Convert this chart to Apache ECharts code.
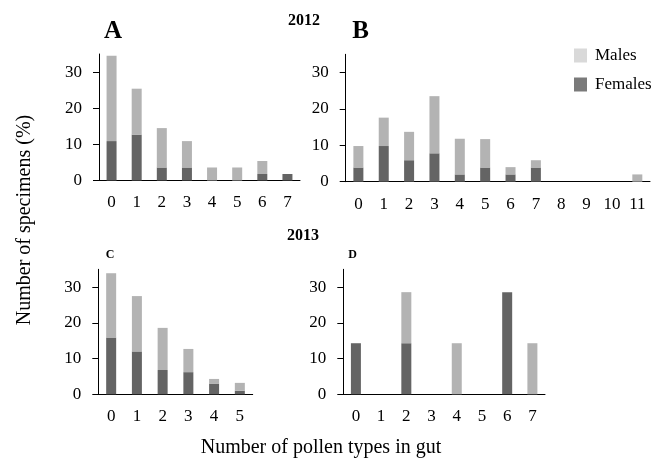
<!DOCTYPE html>
<html>
<head>
<meta charset="utf-8">
<script src="https://cdn.jsdelivr.net/npm/echarts@6/dist/echarts.min.js"></script>
<style>html,body{margin:0;padding:0;background:#fff}#c{width:662px;height:460px}</style>
</head>
<body>
<div id="c"></div>
<script>
// Panel A (2012)
var catsA = ['0','1','2','3','4','5','6','7'];
var femalesA = [10.9, 12.7, 3.6, 3.6, 0, 0, 1.8, 1.8];
var malesA   = [23.6, 12.7, 10.9, 7.3, 3.6, 3.6, 3.6, 0];
// Panel B (2012)
var catsB = ['0','1','2','3','4','5','6','7','8','9','10','11'];
var femalesB = [3.9, 9.8, 5.9, 7.8, 2.0, 3.9, 2.0, 3.9, 0, 0, 0, 0];
var malesB   = [5.9, 7.8, 7.8, 15.7, 9.8, 7.8, 2.0, 2.0, 0, 0, 0, 2.0];
// Panel C (2013)
var catsC = ['0','1','2','3','4','5'];
var femalesC = [15.9, 12.0, 6.8, 6.2, 3.0, 1.0];
var malesC   = [18.0, 15.5, 11.8, 6.5, 1.3, 2.2];
// Panel D (2013)
var catsD = ['0','1','2','3','4','5','6','7'];
var femalesD = [14.3, 0, 14.3, 0, 0, 0, 28.6, 0];
var malesD   = [0, 0, 14.3, 0, 14.3, 0, 0, 14.3];
var yTicks = [0, 10, 20, 30];

var FONT = 'Liberation Serif';
var MALE = '#b3b3b3', FEMALE = '#646464';

var grids = [
  {left: 99, top: 54, width: 201, height: 126.5},
  {left: 345.7, top: 54.3, width: 304.3, height: 127.4},
  {left: 98.3, top: 269.3, width: 154.4, height: 125},
  {left: 343.3, top: 269.3, width: 201.7, height: 125}
];
var cats = [catsA, catsB, catsC, catsD];
var fem = [femalesA, femalesB, femalesC, femalesD];
var mal = [malesA, malesB, malesC, malesD];

var xAxes = [], yAxes = [], series = [];
for (var i = 0; i < 4; i++) {
  xAxes.push({
    type: 'category', gridIndex: i, data: cats[i],
    axisLine: {lineStyle: {color: '#000', width: 1}},
    axisTick: {length: 5, interval: 0, lineStyle: {color: '#000'}},
    axisLabel: {interval: 0, margin: 14, color: '#000', fontFamily: FONT, fontSize: 17}
  });
  yAxes.push({
    type: 'value', gridIndex: i, min: 0, max: 35, interval: 10,
    axisLine: {show: true, lineStyle: {color: '#000', width: 1}},
    axisTick: {show: true, length: 6, customValues: yTicks, lineStyle: {color: '#000'}},
    axisLabel: {margin: 17, color: '#000', fontFamily: FONT, fontSize: 17, customValues: yTicks},
    splitLine: {show: false}
  });
  series.push({
    name: 'Females', type: 'bar', stack: 's' + i, xAxisIndex: i, yAxisIndex: i,
    data: fem[i], barWidth: 10, itemStyle: {color: FEMALE}, silent: true
  });
  series.push({
    name: 'Males', type: 'bar', stack: 's' + i, xAxisIndex: i, yAxisIndex: i,
    data: mal[i], barWidth: 10, itemStyle: {color: MALE}, silent: true
  });
}

function txt(x, y, s, size, bold, rot) {
  return {type: 'text', x: x, y: y, rotation: rot || 0,
    style: {text: s, fill: '#000', font: (bold ? 'bold ' : '') + size + 'px ' + FONT,
      textAlign: 'center', textVerticalAlign: 'middle'}};
}

var chart = echarts.init(document.getElementById('c'), null, {renderer: 'canvas'});
chart.setOption({
  animation: false,
  backgroundColor: '#fff',
  textStyle: {fontFamily: FONT},
  grid: grids,
  xAxis: xAxes,
  yAxis: yAxes,
  series: series,
  legend: {
    orient: 'vertical', left: 569, top: 42,
    icon: 'rect',
    itemWidth: 13, itemHeight: 14, itemGap: 12,
    selectedMode: false,
    data: [
      {name: 'Males', itemStyle: {color: '#d9d9d9'}},
      {name: 'Females', itemStyle: {color: '#7a7a7a'}}
    ],
    textStyle: {fontFamily: FONT, fontSize: 17, color: '#000', padding: [0, 0, 0, 3]}
  },
  graphic: [
    txt(113, 32, 'A', 25, true),
    txt(360.5, 32, 'B', 25, true),
    txt(304, 21, '2012', 16, true),
    txt(303, 236, '2013', 16, true),
    txt(110, 255, 'C', 12, true),
    txt(352.5, 255, 'D', 12, true),
    txt(24.5, 220, 'Number of specimens (%)', 20, false, Math.PI / 2),
    txt(321, 448, 'Number of pollen types in gut', 20, false)
  ]
});
</script>
</body>
</html>
